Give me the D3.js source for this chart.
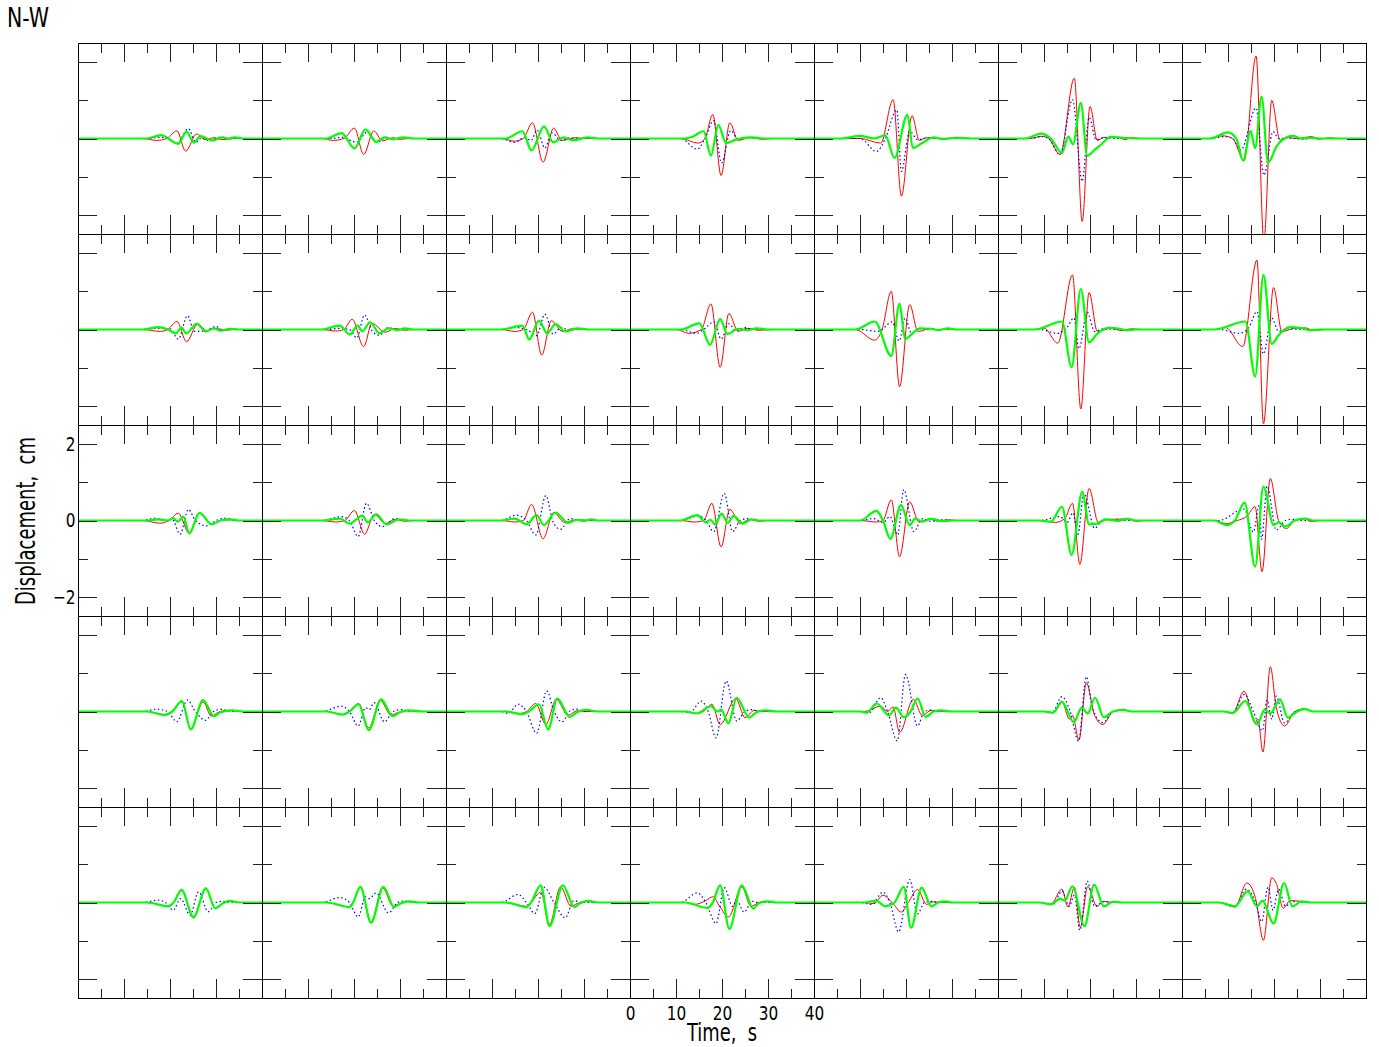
<!DOCTYPE html>
<html><head><meta charset="utf-8">
<script src="https://cdn.jsdelivr.net/npm/d3@7"></script>
<style>body{margin:0;background:#fff}svg{display:block}</style>
</head><body><svg id="chart" width="1379" height="1047"></svg>
<script>
// ---- tick values ----
const timeTicks = [0, 10, 20, 30, 40];
const timeMinorTicks = [5, 15, 25, 35];
const dispTicks = [-2, 0, 2];
const dispMinorTicks = [-1, 1];

// ---- traces: [time s, displacement cm], one list per column ----
const red0 = [
 [[0,0],[14,0],[17.1,-0.05],[19.3,0],[21.5,0.2],[23.4,-0.33],[25.8,0.12],[27.6,-0.03],[29.5,0.02],[31.5,-0.03],[34,0],[40,0]],
 [[0,0],[13,0],[15.5,-0.05],[17.8,0],[20.1,0.27],[22.1,-0.42],[24.3,0.2],[26.2,-0.06],[28.5,0.02],[30,-0.02],[32,0],[40,0]],
 [[0,0],[12,0],[14.9,-0.07],[16.8,0],[18.8,0.41],[21.1,-0.62],[23.4,0.27],[25.2,-0.05],[28.3,0.02],[30,0],[40,0]],
 [[0,0],[11,0],[14.8,-0.12],[16.3,0],[18.0,0.63],[19.8,-0.97],[21.7,0.41],[23.5,-0.05],[26,0.02],[29,-0.02],[31,0],[40,0]],
 [[0,0],[10,0],[14.5,-0.12],[17.2,1.02],[19.0,-1.51],[21.3,0.6],[22.9,-0.05],[24.5,0.02],[27,0],[32.4,0.02],[34,0],[40,0]],
 [[0,0],[7,0],[9.5,0.06],[11,0],[13.5,-0.42],[16.6,1.58],[18.3,-2.17],[20.0,0.84],[21.6,-0.05],[23,0.03],[26.5,0.02],[27.5,-0.03],[29,0.02],[31,0],[40,0]],
 [[0,0],[6,0],[8.9,0.07],[11,0],[13.5,-0.58],[16.1,2.16],[17.8,-2.7],[19.5,1.0],[21.3,-0.04],[23,0.02],[25,0],[28.3,0.05],[29.5,-0.02],[32.3,0.02],[34,0],[40,0]]
];
const green0 = [
 [[0,0],[15,0],[18,0.09],[21.8,-0.14],[23.6,0.18],[25.2,-0.11],[26.6,0.06],[29.2,-0.05],[31.4,0.03],[32.5,-0.01],[34,0.03],[36,0],[40,0]],
 [[0,0],[14,0],[17.3,0.14],[20.1,-0.26],[22.5,0.24],[24.8,-0.09],[26.6,0.03],[28.5,-0.02],[30.7,0.03],[33,0],[40,0]],
 [[0,0],[13,0],[16.6,0.19],[18.6,-0.31],[21.3,0.32],[23.3,-0.1],[25.6,0.03],[27.5,-0.05],[30.9,0.03],[33,0],[40,0]],
 [[0,0],[12,0],[13.5,0.04],[16.0,0.19],[17.6,-0.45],[19.2,0.35],[20.9,-0.12],[23,-0.03],[26.5,0.03],[29,0],[40,0]],
 [[0,0],[6,0],[10,0.07],[13,0],[15.5,0.08],[17.5,-0.51],[20.3,0.62],[21.5,-0.25],[23.5,-0.12],[26,0.03],[28,-0.02],[31,0.02],[34,0],[40,0]],
 [[0,0],[6,0],[9.4,0.13],[11.5,0],[13.9,-0.38],[15.3,0.05],[16.3,-0.15],[18.0,0.93],[19.4,-0.45],[21,-0.3],[22.5,-0.15],[24.5,0.04],[27,0.02],[30,0],[40,0]],
 [[0,0],[6,0],[10,0.16],[11.8,0],[13.3,-0.58],[14.9,0.2],[15.9,-0.25],[17.3,1.1],[18.7,-0.63],[20.6,-0.2],[21.7,-0.05],[24.1,0.07],[26,0],[28,0.02],[30,0],[40,0]]
];
const blue0 = [
 [[0,0],[15,0],[17.5,0.03],[19.5,0],[21.5,-0.12],[24,0.26],[25.6,-0.1],[27,0.02],[28.5,-0.05],[31,0.04],[33,0],[40,0]],
 [[0,0],[15,0],[17.5,0.03],[20.5,-0.1],[23,0.18],[25,-0.1],[27,0.03],[28.5,-0.03],[30.5,0.02],[32,0],[40,0]],
 [[0,0],[12,0],[14.9,-0.1],[17,0.02],[18.5,-0.05],[19.8,0.22],[21.5,-0.25],[23,0.15],[25,-0.05],[27,0.02],[29,0],[40,0]],
 [[0,0],[11,0],[14.6,-0.28],[16.3,0],[18.2,0.47],[19.9,-0.64],[21.9,0.21],[23.5,-0.03],[25.5,0.03],[28,0],[40,0]],
 [[0,0],[10,0],[13.6,-0.34],[15.5,0],[18.0,0.75],[19.0,-0.86],[20.8,0.19],[22.5,-0.03],[25,0.02],[28,0],[40,0]],
 [[0,0],[7,0],[9.5,0.05],[11,0],[13.5,-0.42],[16.2,1.02],[18.3,-1.12],[19.8,0.55],[21.3,-0.03],[23,0.02],[26,0],[40,0]],
 [[0,0],[6,0],[9.5,0.05],[11,0],[12.8,-0.3],[16.1,0.8],[17.8,-0.96],[19.8,0.18],[21,0],[23,0.02],[26,-0.02],[28,0],[40,0]]
];

const red1 = [
 [[0,0],[14,0],[17.9,-0.05],[19.5,0],[21.5,0.21],[23.6,-0.32],[26,0.14],[28,-0.03],[30,0.03],[32,-0.02],[34,0],[40,0]],
 [[0,0],[13,0],[16,-0.04],[17.8,0],[19.6,0.27],[22.1,-0.45],[23.9,0.16],[26.8,-0.07],[29,0.03],[31,-0.02],[33,0],[40,0]],
 [[0,0],[12,0],[15,-0.05],[16.8,0],[18.8,0.45],[20.8,-0.67],[22.9,0.23],[25.3,-0.05],[27.5,0.02],[30,0],[40,0]],
 [[0,0],[10,0],[12.8,-0.1],[15.5,0],[17.6,0.67],[19.6,-0.99],[21.5,0.42],[23.5,-0.05],[25.5,0.03],[28,-0.02],[31,0],[40,0]],
 [[0,0],[9,0],[13.2,-0.28],[14.8,0],[16.8,1.0],[18.6,-1.5],[20.8,0.65],[22.6,-0.05],[25.5,0.03],[27,-0.02],[29,0.02],[31,0],[40,0]],
 [[0,0],[8,0],[10,0.04],[13.0,-0.36],[16.2,1.43],[18.0,-2.08],[19.8,0.97],[21.6,-0.05],[24.5,0.03],[27,-0.03],[29,0.02],[31,0],[40,0]],
 [[0,0],[7,0],[9.5,0.05],[13.2,-0.45],[16.3,1.82],[17.7,-2.47],[19.9,1.1],[21.7,-0.05],[24.5,0.03],[27,0.04],[28.5,-0.03],[31,0],[40,0]]
];
const green1 = [
 [[0,0],[14,0],[17.5,0.06],[19.5,0],[21.3,-0.1],[22.5,0.05],[23.5,-0.1],[25.8,0.15],[27.8,-0.05],[29.5,0.03],[31,-0.03],[33,0.02],[35,0],[40,0]],
 [[0,0],[13,0],[16.9,0.1],[19.1,-0.13],[20.8,0.1],[21.8,-0.05],[23.5,0.19],[25.5,-0.1],[27.5,0.03],[29.5,-0.02],[31,0.03],[33,0],[40,0]],
 [[0,0],[12,0],[16.6,0.1],[18.1,-0.26],[20.2,0.23],[22,-0.1],[23.8,0.14],[26,-0.05],[28.5,0.03],[31,0],[40,0]],
 [[0,0],[11,0],[15.1,0.16],[17.4,-0.4],[19.6,0.27],[21.2,-0.12],[23.5,0.02],[25.5,-0.02],[27.5,0.03],[30,0],[40,0]],
 [[0,0],[9,0],[13.2,0.21],[16.8,-0.69],[18.6,0.68],[19.8,-0.25],[21,-0.15],[23,0.03],[25.5,0.02],[27,-0.02],[29,0.03],[31,0],[40,0]],
 [[0,0],[8,0],[13.9,0.21],[16.0,-0.99],[18.0,1.06],[19.8,-0.34],[21.5,-0.12],[24,0.04],[26.5,0.02],[28,-0.02],[30,0],[40,0]],
 [[0,0],[7,0],[13.8,0.21],[15.9,-1.23],[17.7,1.43],[19.5,-0.38],[21,-0.15],[23.5,0.06],[26,0.03],[28,-0.02],[30,0],[40,0]]
];
const blue1 = [
 [[0,0],[14,0],[17,0.03],[20,0.02],[21.8,-0.25],[23.8,0.36],[25.3,-0.05],[27.5,-0.04],[30,0.08],[31.5,-0.02],[33,0],[40,0]],
 [[0,0],[14,0],[17,0.03],[19,0],[20.6,-0.22],[22.3,0.38],[24,-0.05],[25.5,-0.15],[27.5,0.05],[29,0],[40,0]],
 [[0,0],[12,0],[15,0.05],[17.5,0],[19.7,-0.16],[21.5,0.4],[23.3,-0.12],[25,0.05],[27,-0.02],[29,0.03],[31,0],[40,0]],
 [[0,0],[11,0],[14.5,-0.1],[16,0],[18.3,0.2],[19.8,-0.25],[21.5,0.15],[23,-0.03],[25,0.05],[27,0],[40,0]],
 [[0,0],[10,0],[14,-0.05],[17,0.2],[18.5,-0.3],[19.8,0.3],[21.2,-0.1],[23,0.02],[25,0],[40,0]],
 [[0,0],[9,0],[13,-0.1],[15,0.05],[16.5,0.3],[17.6,-0.5],[19.4,0.45],[21,-0.05],[23,0.02],[26,0],[40,0]],
 [[0,0],[8,0],[12.5,-0.1],[14.5,0.05],[16.3,0.47],[17.7,-0.64],[19.5,0.3],[21,-0.05],[23,0.02],[26,0],[40,0]]
];

const red2 = [
 [[0,0],[14,0],[17.8,-0.07],[19.8,0],[21.8,0.19],[24.2,-0.34],[26.4,0.2],[29.1,-0.1],[31,0],[33.7,0.02],[35,0],[40,0]],
 [[0,0],[13,0],[16,-0.04],[18,0],[20.1,0.26],[22.3,-0.36],[24.4,0.16],[26.8,-0.08],[29,0.03],[31,-0.02],[33,0],[40,0]],
 [[0,0],[12,0],[15,-0.04],[16.8,0],[18.6,0.42],[21.1,-0.48],[23.4,0.21],[25.8,-0.05],[28.5,0.03],[31,0],[40,0]],
 [[0,0],[11,0],[14,-0.04],[16,0],[17.8,0.45],[19.8,-0.69],[21.7,0.29],[24,-0.08],[26,0.03],[28,-0.02],[30,0],[40,0]],
 [[0,0],[10,0],[13.5,-0.04],[15,0],[16.8,0.54],[18.6,-0.95],[20.8,0.49],[22.8,-0.04],[25,0.04],[27,-0.02],[29,0.02],[31,0],[40,0]],
 [[0,0],[9,0],[12.5,-0.05],[14.5,0.05],[16.2,0.45],[17.8,-1.15],[19.8,0.84],[21.8,-0.05],[24,0.03],[28.2,0.04],[30,-0.02],[32,0],[40,0]],
 [[0,0],[7,0],[9.7,-0.08],[12,0],[14,0.1],[15.9,0.36],[17.4,-1.34],[19.2,1.1],[21,0],[22.7,-0.21],[24.5,0],[26.7,0.05],[28,-0.03],[30,0],[40,0]]
];
const green2 = [
 [[0,0],[15,0],[17.5,0.03],[19.5,0],[20.7,0.06],[21.7,-0.03],[22.9,0.1],[24.2,-0.34],[26.4,0.2],[29.1,-0.1],[31,0],[33,0.03],[35,0],[40,0]],
 [[0,0],[13,0],[16.9,0.05],[19.1,-0.08],[21.8,0.13],[23,-0.05],[24.8,0.16],[27.1,-0.1],[29.8,0.03],[32,0],[40,0]],
 [[0,0],[12,0],[14.9,0.05],[17.5,-0.1],[19.7,0.14],[21.3,-0.12],[23.8,0.21],[26.5,-0.06],[28.5,0.02],[30,-0.01],[31.5,0.03],[33,0],[40,0]],
 [[0,0],[11,0],[14.6,0.14],[16.5,-0.05],[17.5,0.02],[18.5,-0.1],[19.9,0.18],[21.3,-0.06],[22.5,0.12],[24.5,-0.08],[26.5,0.03],[28,0],[40,0]],
 [[0,0],[10,0],[13.6,0.25],[15,0],[16.6,-0.48],[18.9,0.4],[20.8,-0.12],[22,0.05],[23.5,-0.03],[25.5,0.04],[28,-0.02],[30,0],[40,0]],
 [[0,0],[9,0],[11.5,-0.03],[13.9,0.36],[16.0,-0.9],[18.3,0.75],[19.8,-0.1],[21.5,-0.08],[23.5,0.03],[26,-0.01],[28.2,0.04],[30,0],[40,0]],
 [[0,0],[7,0],[9.7,-0.12],[11.5,0],[13.6,0.47],[15.9,-1.21],[17.7,0.89],[19.9,-0.12],[21,-0.05],[22.5,-0.16],[24.5,0],[26.7,0.05],[28.5,0],[40,0]]
];
const blue2 = [
 [[0,0],[14,0],[16.7,0.06],[19,0],[20.5,0.03],[22.2,-0.36],[24,0.29],[25.5,0],[28,-0.14],[30,0],[32.3,0.06],[34,0],[40,0]],
 [[0,0],[13,0],[17.3,0.1],[19,0],[20.9,-0.42],[22.7,0.45],[24.5,-0.02],[26.2,-0.16],[28.9,0.05],[31,0],[40,0]],
 [[0,0],[12,0],[15.2,0.14],[17.5,0],[19.5,-0.38],[21.7,0.65],[23.3,-0.05],[24.9,-0.23],[27,0.05],[29,0],[40,0]],
 [[0,0],[11,0],[15,0.12],[16.5,0],[18.2,-0.29],[20.5,0.71],[22.3,-0.29],[24,0],[25.5,0.05],[27.5,0],[40,0]],
 [[0,0],[10,0],[13,0.05],[15,-0.05],[16.5,0.1],[18.2,-0.38],[19.5,0.81],[21.7,-0.29],[23.5,0.04],[25.5,-0.02],[27.5,0.02],[30,0],[40,0]],
 [[0,0],[9,0],[13.5,0.1],[15,-0.05],[16.3,0.2],[17.3,-0.4],[18.7,0.71],[21.0,-0.2],[23,0.03],[25.5,0.02],[28,0],[40,0]],
 [[0,0],[8,0],[13.5,0.3],[15.5,-0.3],[16.8,0.4],[17.3,-0.5],[18.5,0.9],[20.5,-0.25],[22.5,0],[24,0.03],[26,0],[40,0]]
];

const red3 = [
 [[0,0],[15,0],[18.8,-0.08],[20.5,0],[22.6,0.25],[24.5,-0.45],[27.2,0.25],[29,-0.12],[30.5,-0.02],[32.5,0.03],[35,0],[40,0]],
 [[0,0],[14,0],[17.5,-0.08],[19,0],[21.0,0.21],[23.2,-0.43],[25.7,0.29],[28,-0.09],[29.5,-0.03],[31.5,0.03],[34,0],[40,0]],
 [[0,0],[13,0],[16,-0.05],[17.5,0],[19.5,0.21],[21.7,-0.34],[24,0.32],[26.5,-0.1],[28.5,0.02],[30,0],[40,0]],
 [[0,0],[12,0],[14.5,-0.05],[16,0],[17.8,0.19],[19.6,-0.34],[23,0.34],[25,-0.16],[27,0.03],[28.5,0],[40,0]],
 [[0,0],[11,0],[14.5,0.14],[16,0],[17.2,0.12],[18.6,-0.55],[21.6,0.32],[23.5,-0.1],[25.5,0.03],[28,0],[40,0]],
 [[0,0],[10,0],[12,-0.03],[13.9,0.27],[15.5,-0.2],[16.2,-0.1],[17.6,-0.75],[19.2,0.75],[21,-0.1],[22.8,-0.34],[25,0],[27.3,0.05],[29,0],[40,0]],
 [[0,0],[9,0],[11,-0.04],[13.5,0.53],[15.9,-0.3],[16.5,-0.2],[17.6,-1.06],[19.2,1.17],[20.5,0.1],[22.3,-0.38],[24.5,0],[26.7,0.07],[28.5,0],[40,0]]
];
const green3 = [
 [[0,0],[15,0],[18.8,-0.09],[20.5,0],[22.6,0.27],[24.5,-0.47],[27.2,0.3],[29.5,-0.12],[31,-0.02],[33.5,0.03],[36,0],[40,0]],
 [[0,0],[14,0],[17.5,-0.08],[19,0],[21.0,0.19],[23.2,-0.49],[25.9,0.32],[28.4,-0.12],[30,-0.02],[32,0.03],[35,0],[40,0]],
 [[0,0],[13,0],[16.5,-0.07],[18,0],[20.2,0.19],[22.2,-0.47],[24.2,0.34],[26.9,-0.14],[28.5,-0.02],[30.5,0.04],[33,0],[40,0]],
 [[0,0],[12,0],[14.5,-0.05],[17.6,0.14],[19,0],[19.8,0.05],[21.4,-0.31],[23.2,0.36],[25.9,-0.16],[27.5,-0.02],[29.5,0.03],[32,0],[40,0]],
 [[0,0],[10,0],[11.5,-0.03],[13.6,0.21],[16.3,-0.1],[17.8,0.1],[19.5,-0.15],[21,0],[22.5,0.34],[24.3,-0.14],[26,0],[27.5,0.03],[30,0],[40,0]],
 [[0,0],[10,0],[12,-0.03],[13.9,0.25],[16.5,-0.28],[18.2,0.1],[19.5,-0.05],[21.1,0.36],[23,-0.15],[25,0],[27.3,0.04],[29,0],[40,0]],
 [[0,0],[9,0],[11,-0.04],[13.8,0.27],[16.3,-0.34],[18,0.05],[19.2,-0.05],[21.3,0.32],[23,-0.16],[25,0],[26.7,0.06],[28.5,0],[40,0]]
];
const blue3 = [
 [[0,0],[14,0],[17,0.06],[19.5,0],[21.5,-0.27],[23.8,0.3],[25.5,0],[27.7,-0.23],[29.5,0],[31.3,0.06],[33,0],[40,0]],
 [[0,0],[13,0],[17.3,0.14],[19,0],[20.9,-0.38],[22.5,0.1],[23.3,0.05],[24.4,0.23],[26.6,-0.27],[28.5,0],[30.5,0.05],[32,0],[40,0]],
 [[0,0],[12,0],[13.5,-0.05],[15.7,0.19],[17.5,0],[19.7,-0.57],[21.9,0.54],[23.5,0],[25.2,-0.27],[27,0.02],[28.5,0.06],[30,0],[40,0]],
 [[0,0],[11,0],[13,-0.03],[15.5,0.27],[17,0],[18.7,-0.69],[20.9,0.8],[23.2,-0.25],[25,0],[26.5,0.05],[28,0],[40,0]],
 [[0,0],[10,0],[12,-0.03],[14.5,0.36],[16,0],[18.1,-0.77],[19.9,0.97],[22.5,-0.38],[24,0],[25.5,0.04],[27,0],[40,0]],
 [[0,0],[10,0],[11.8,-0.03],[13.9,0.39],[15.7,0],[17.5,-0.77],[19.2,0.91],[20.5,0.1],[22.8,-0.29],[25,0],[27,0.04],[29,0],[40,0]],
 [[0,0],[9,0],[11,-0.04],[13.6,0.45],[15.5,0],[17.5,-0.5],[18.5,0.3],[19.5,-0.2],[20.5,0.4],[22.3,-0.3],[24.5,0],[26.7,0.06],[28.5,0],[40,0]]
];

const red4 = [
 [[0,0],[15,0],[19.6,-0.09],[20.8,0],[22.5,0.33],[25.1,-0.41],[27.8,0.37],[29.8,-0.15],[31.5,-0.02],[33,0.04],[35,0],[40,0]],
 [[0,0],[14,0],[19.1,-0.12],[19.8,0],[21.4,0.39],[23.7,-0.51],[26.2,0.39],[28.5,-0.1],[30,-0.03],[32,0.03],[34,0],[40,0]],
 [[0,0],[13,0],[17.5,-0.1],[18.5,0],[20.6,0.27],[22.5,-0.57],[24.9,0.41],[27.2,-0.1],[28.5,-0.03],[30.5,0.03],[33,0],[40,0]],
 [[0,0],[12,0],[14,-0.05],[16.5,0.05],[18,0.15],[19.5,-0.1],[21.4,-0.38],[24.3,0.41],[26.3,-0.1],[28,0],[29.5,0.03],[31,0],[40,0]],
 [[0,0],[11,0],[13,-0.03],[15,0.19],[17,0],[19,-0.25],[20.5,0],[22.5,0.34],[24.5,-0.05],[26,0.02],[28,0],[40,0]],
 [[0,0],[9,0],[11.5,-0.04],[13.9,0.35],[15.2,-0.12],[16.6,0.4],[17.9,-0.65],[19.5,0.42],[21.5,-0.1],[23,0.03],[25,0],[40,0]],
 [[0,0],[8,0],[11.5,-0.12],[14.1,0.51],[16,0.1],[17.7,-0.99],[19.5,0.65],[20.5,0.5],[22,-0.15],[23.5,0.05],[26,0.03],[28,0],[40,0]]
];
const green4 = [
 [[0,0],[15,0],[19.6,-0.1],[20.8,0],[22.5,0.33],[25.1,-0.38],[27.8,0.37],[29.8,-0.15],[31.5,-0.02],[33,0.04],[35,0],[40,0]],
 [[0,0],[14,0],[19.1,-0.12],[19.8,0],[21.4,0.41],[23.7,-0.53],[26.4,0.41],[28.7,-0.12],[30,-0.03],[32,0.03],[34,0],[40,0]],
 [[0,0],[13,0],[17.5,-0.12],[18.5,0],[20.6,0.45],[22.5,-0.62],[25.4,0.45],[27.9,-0.12],[29,-0.03],[31,0.04],[33,0],[40,0]],
 [[0,0],[12,0],[16.9,-0.14],[18,0],[19.6,0.45],[21.6,-0.69],[24.3,0.45],[26.8,-0.16],[28,-0.02],[30,0.03],[32,0],[40,0]],
 [[0,0],[11,0],[13.5,0.05],[15.5,-0.1],[17.5,0],[19.5,0.41],[21.1,-0.66],[23.4,0.39],[25.5,-0.1],[27,0],[28.5,0.03],[30,0],[40,0]],
 [[0,0],[9,0],[11.5,-0.05],[13.5,0.1],[14.5,0.05],[16.2,0.42],[18.8,-0.62],[20.9,0.47],[23,-0.1],[25,0.02],[27,0],[40,0]],
 [[0,0],[8,0],[11.5,-0.1],[14.3,0.3],[16.3,-0.1],[17.5,0.05],[19.9,-0.55],[22.2,0.51],[24,-0.1],[26,0.03],[28,0],[40,0]]
];
const blue4 = [
 [[0,0],[14,0],[17.4,0.06],[19,0],[20.7,-0.2],[22.3,0.1],[24.4,-0.33],[26.2,0.28],[28.3,-0.24],[30,0],[31.5,0.03],[33,0],[40,0]],
 [[0,0],[13,0],[16.9,0.13],[19,0],[20.9,-0.38],[22.5,0.15],[23.3,0.1],[24.8,0.25],[27.5,-0.27],[29.5,0],[31,0.04],[33,0],[40,0]],
 [[0,0],[12,0],[15.7,0.21],[17.5,0],[19.3,-0.29],[21.3,0.4],[23.5,0],[25.9,-0.4],[27.8,0.05],[29.5,0],[40,0]],
 [[0,0],[11,0],[14.6,0.25],[16.5,0],[18.7,-0.55],[20.5,0.39],[22.3,-0.1],[23.2,0.05],[24.8,-0.25],[26.5,0.03],[28,0],[40,0]],
 [[0,0],[10,0],[12.5,-0.05],[15,0.27],[16.5,0],[18.4,-0.77],[20.8,0.6],[22.5,-0.3],[24,0],[25.5,0.03],[27,0],[40,0]],
 [[0,0],[9,0],[12,-0.05],[13.9,0.3],[15.5,-0.1],[16.6,0.2],[17.8,-0.73],[19.4,0.56],[21,-0.1],[23,0.02],[25,0],[40,0]],
 [[0,0],[8,0],[11.5,-0.08],[14,0.35],[16,0],[17.3,-0.5],[18.7,0.4],[19.8,-0.2],[21,0.35],[22.5,-0.1],[24,0.03],[26,0],[40,0]]
];

const redRows = [red0, red1, red2, red3, red4];
const blueRows = [blue0, blue1, blue2, blue3, blue4];
const greenRows = [green0, green1, green2, green3, green4];

(function draw() {
  const W = 1379, H = 1047;
  const padL = 78, padT = 43, pw = 184, ph = 191, nCols = 7, nRows = 5;
  const labelRow = 2, labelCol = 3;
  const fontFam = "'Liberation Sans Narrow','DejaVu Sans Condensed','Liberation Sans',sans-serif";

  const svg = d3.select("#chart");
  svg.append("rect").attr("width", W).attr("height", H).attr("fill", "#fff");
  const defs = svg.append("defs");

  function styleAxis(g, showText) {
    g.attr("font-family", fontFam).attr("font-size", 20);
    g.selectAll(".domain").attr("stroke", "#000").attr("stroke-width", 1).attr("shape-rendering", "crispEdges");
    g.selectAll(".tick line").attr("stroke", "#222").attr("stroke-width", 1).attr("shape-rendering", "crispEdges");
    g.selectAll(".tick text").attr("fill", "#000").attr("transform", "scale(0.85,1)");
    if (!showText) g.selectAll(".tick text").remove();
  }

  for (let r = 0; r < nRows; r++) {
    for (let c = 0; c < nCols; c++) {
      const x0 = padL + c * pw, y0 = padT + r * ph;
      const x = d3.scaleLinear().domain([0, 40]).range([x0, x0 + pw]);
      const y = d3.scaleLinear().domain([-2.5, 2.5]).range([y0 + ph, y0]);
      const id = "clip" + r + "_" + c;
      defs.append("clipPath").attr("id", id).append("rect")
        .attr("x", x0).attr("y", y0).attr("width", pw).attr("height", ph);
      const line = d3.line().x(d => x(d[0])).y(d => y(d[1])).curve(d3.curveMonotoneX);
      const tg = svg.append("g").attr("clip-path", "url(#" + id + ")");
      tg.append("path").datum(redRows[r][c]).attr("d", line)
        .attr("fill", "none").attr("stroke", "#ff0000").attr("stroke-width", 1);
      tg.append("path").datum(blueRows[r][c]).attr("d", line)
        .attr("fill", "none").attr("stroke", "#0000ff").attr("stroke-width", 1.2)
        .attr("stroke-dasharray", "1.5,2.5");
      tg.append("path").datum(greenRows[r][c]).attr("d", line)
        .attr("fill", "none").attr("stroke", "#00ff00").attr("stroke-width", 2.2);

      const ag = svg.append("g");
      const showX = (r === nRows - 1 && c === labelCol);
      const showY = (c === 0 && r === labelRow);
      ag.append("g").attr("transform", `translate(0,${y0 + ph})`)
        .call(d3.axisBottom(x).tickValues(timeTicks).tickSize(-19).tickSizeOuter(0).tickPadding(8).tickFormat(d3.format("d")))
        .call(g => styleAxis(g, showX));
      ag.append("g").attr("transform", `translate(0,${y0 + ph})`)
        .call(d3.axisBottom(x).tickValues(timeMinorTicks).tickSize(-9.5).tickSizeOuter(0))
        .call(g => styleAxis(g, false));
      ag.append("g").attr("transform", `translate(0,${y0})`)
        .call(d3.axisTop(x).tickValues(timeTicks).tickSize(-19).tickSizeOuter(0))
        .call(g => styleAxis(g, false));
      ag.append("g").attr("transform", `translate(0,${y0})`)
        .call(d3.axisTop(x).tickValues(timeMinorTicks).tickSize(-9.5).tickSizeOuter(0))
        .call(g => styleAxis(g, false));
      ag.append("g").attr("transform", `translate(${x0},0)`)
        .call(d3.axisLeft(y).tickValues(dispTicks).tickSize(-19).tickSizeOuter(0).tickPadding(3).tickFormat(d3.format("d")))
        .call(g => styleAxis(g, showY));
      ag.append("g").attr("transform", `translate(${x0},0)`)
        .call(d3.axisLeft(y).tickValues(dispMinorTicks).tickSize(-9.5).tickSizeOuter(0))
        .call(g => styleAxis(g, false));
      ag.append("g").attr("transform", `translate(${x0 + pw},0)`)
        .call(d3.axisRight(y).tickValues(dispTicks).tickSize(-19).tickSizeOuter(0))
        .call(g => styleAxis(g, false));
      ag.append("g").attr("transform", `translate(${x0 + pw},0)`)
        .call(d3.axisRight(y).tickValues(dispMinorTicks).tickSize(-9.5).tickSizeOuter(0))
        .call(g => styleAxis(g, false));
    }
  }

  svg.append("text").attr("x", 7).attr("y", 27).attr("font-family", fontFam).attr("font-size", 26)
    .attr("textLength", 42).attr("lengthAdjust", "spacingAndGlyphs").attr("fill", "#000").text("N-W");
  svg.append("text").attr("x", 722).attr("y", 1041).attr("text-anchor", "middle")
    .attr("font-family", fontFam).attr("font-size", 24)
    .attr("textLength", 70).attr("lengthAdjust", "spacingAndGlyphs").attr("fill", "#000")
    .style("white-space", "pre").text("Time,  s");
  svg.append("text").attr("transform", "translate(35,521) rotate(-90)").attr("text-anchor", "middle")
    .attr("font-family", fontFam).attr("font-size", 27)
    .attr("textLength", 168).attr("lengthAdjust", "spacingAndGlyphs").attr("fill", "#000")
    .style("white-space", "pre").text("Displacement,  cm");
})();
</script></body></html>
